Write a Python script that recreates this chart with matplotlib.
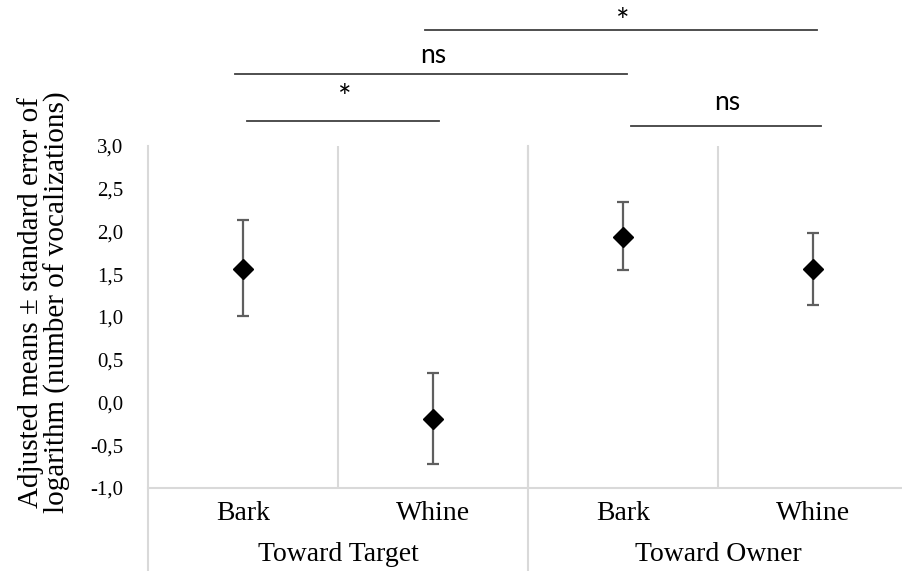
import matplotlib.pyplot as plt
from matplotlib.ticker import FuncFormatter
import matplotlib.transforms as mtransforms

# data
calls = ['Bark', 'Whine', 'Bark', 'Whine']
groups = ['Toward Target', 'Toward Owner']
means = [1.56, -0.19, 1.94, 1.56]
lower = [1.01, -0.72, 1.55, 1.14]
upper = [2.14, 0.35, 2.34, 1.98]

# significance comparisons: line from/to (category units), label, line height, label baseline
comp_start = [0.02, -0.04, 0.96, 2.04]
comp_end = [1.03, 2.02, 3.02, 3.04]
comp_label = ['*', 'ns', '*', 'ns']
comp_height = [3.29, 3.84, 4.36, 3.23]
comp_text_y = [3.44, 3.97, 4.33, 3.42]

plt.rcParams['font.family'] = 'Liberation Serif'

fig = plt.figure(figsize=(9.03, 5.71), dpi=100)
W, H = 903, 571
ax = fig.add_axes([148 / W, (H - 488) / H, 760 / W, 342 / H])

x = list(range(len(means)))
yerr = [[m - l for m, l in zip(means, lower)], [u - m for m, u in zip(means, upper)]]
ax.errorbar(x, means, yerr=yerr, fmt='D', color='black', ms=10,
            ecolor='#5f5f5f', elinewidth=1.6, capsize=4.5, capthick=1.6, zorder=3)

ax.set_xlim(-0.5, 3.5)
ax.set_ylim(-1, 3)
ax.set_yticks([-1, -0.5, 0, 0.5, 1, 1.5, 2, 2.5, 3])
ax.yaxis.set_major_formatter(FuncFormatter(lambda v, p: f'{v:.1f}'.replace('.', ',')))
ax.tick_params(axis='y', length=0, pad=18, labelsize=15)
ax.set_xticks(x)
ax.set_xticklabels(calls, fontsize=20)
ax.tick_params(axis='x', length=0, pad=9)

for s in ['top', 'right']:
    ax.spines[s].set_visible(False)
ax.spines['left'].set_visible(False)
ax.spines['bottom'].set_color('#d9d9d9')
ax.spines['bottom'].set_linewidth(1.5)

grid = '#d9d9d9'
for b in [0.5, 1.5, 2.5]:
    ax.axvline(b, color=grid, lw=1.5, zorder=1)
trans = mtransforms.blended_transform_factory(ax.transData, ax.transAxes)
bottom = -(H - 488) / 342
for b in [-0.5, 1.5]:
    ax.plot([b, b], [bottom, 1], color=grid, lw=1.5, transform=trans, clip_on=False, zorder=1)

for i, g in enumerate(groups):
    ax.text(2 * i + 0.5, -0.195, g, transform=trans, ha='center', va='center', fontsize=20)

for a, b, lab, h, ty in zip(comp_start, comp_end, comp_label, comp_height, comp_text_y):
    ax.plot([a, b], [h, h], color='#404040', lw=1.3, clip_on=False)
    ax.text((a + b) / 2 + 0.01, ty, lab, ha='center', va='baseline',
            fontsize=23 if lab == '*' else 19, family='Lato', color='black', clip_on=False)

fig.text(44 / W, (H - 302) / H,
         'Adjusted means \u00b1 standard error of\nlogarithm (number of vocalizations)',
         rotation=90, ha='center', va='center', fontsize=21, linespacing=1.0)

fig.savefig('out.png', dpi=100)
